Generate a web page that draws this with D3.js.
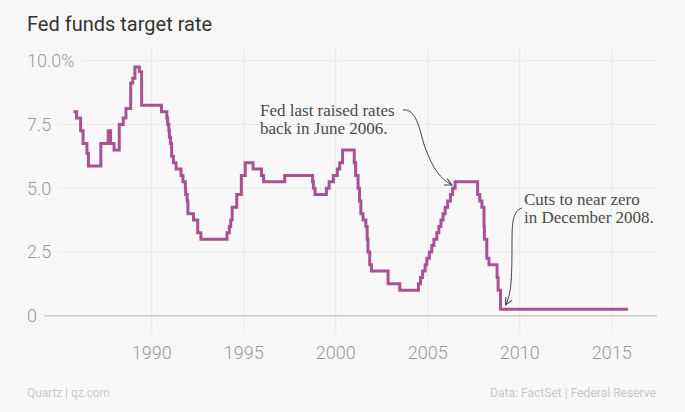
<!DOCTYPE html>
<html>
<head>
<meta charset="utf-8">
<script src="https://cdn.jsdelivr.net/npm/d3@7"></script>
<style>
  html, body { margin: 0; padding: 0; background: #f8f8f8; }
  svg { display: block; }
</style>
</head>
<body>
<svg id="chart" width="685" height="412"></svg>
<script>
// ---- Data (step changes of the target rate) ----
const changeDates = [
  "1985-10-01","1985-12-01","1986-02-20","1986-04-10","1986-06-25","1986-07-25",
  "1987-03-28","1987-08-22","1987-10-08","1987-12-15",
  "1988-03-28","1988-06-15","1988-08-08","1988-11-10","1988-12-20",
  "1989-02-02","1989-05-01","1989-06-15",
  "1990-07-13","1990-10-29","1990-11-14","1990-12-07","1990-12-18",
  "1991-01-09","1991-02-01","1991-03-08","1991-04-30","1991-08-06","1991-09-13",
  "1991-10-31","1991-11-06","1991-12-06","1991-12-20",
  "1992-04-09","1992-07-02","1992-09-04",
  "1994-02-04","1994-03-22","1994-04-18","1994-05-17","1994-08-16","1994-11-15",
  "1995-02-01","1995-07-06","1995-12-19","1996-01-31","1997-03-25",
  "1998-09-29","1998-10-15","1998-11-17",
  "1999-06-30","1999-08-24","1999-11-16",
  "2000-02-02","2000-03-21","2000-05-16",
  "2001-01-03","2001-01-31","2001-03-20","2001-04-18","2001-05-15","2001-06-27",
  "2001-08-21","2001-09-17","2001-10-02","2001-11-06","2001-12-11",
  "2002-11-06","2003-06-25",
  "2004-06-30","2004-08-10","2004-09-21","2004-11-10","2004-12-14",
  "2005-02-02","2005-03-22","2005-05-03","2005-06-30","2005-08-09","2005-09-20",
  "2005-11-01","2005-12-13",
  "2006-01-31","2006-03-28","2006-05-10","2006-06-29",
  "2007-09-18","2007-10-31","2007-12-11",
  "2008-01-22","2008-01-30","2008-03-18","2008-04-30","2008-10-08","2008-10-29",
  "2008-12-16","2015-11-20"
];
const rates = [
  8.0,7.75,7.25,6.75,6.375,5.875,
  6.75,7.25,6.75,6.5,
  7.5,7.75,8.125,9.125,9.3125,
  9.75,9.5625,8.25,
  8.0,7.75,7.5,7.25,7.0,
  6.75,6.25,6.0,5.75,5.5,5.25,
  5.0,4.75,4.5,4.0,
  3.75,3.25,3.0,
  3.25,3.5,3.75,4.25,4.75,5.5,
  6.0,5.75,5.5,5.25,5.5,
  5.25,5.0,4.75,
  5.0,5.25,5.5,
  5.75,6.0,6.5,
  6.0,5.5,5.0,4.5,4.0,3.75,
  3.5,3.0,2.5,2.0,1.75,
  1.25,1.0,
  1.25,1.5,1.75,2.0,2.25,
  2.5,2.75,3.0,3.25,3.5,3.75,
  4.0,4.25,
  4.5,4.75,5.0,5.25,
  4.75,4.5,4.25,
  3.5,3.0,2.25,2.0,1.5,1.0,
  0.25,0.25
];
const yTicks = [0, 2.5, 5, 7.5, 10];
const yTickLabels = ["0", "2.5", "5.0", "7.5", "10.0%"];
const xTickYears = [1990, 1995, 2000, 2005, 2010, 2015];

const titleText = "Fed funds target rate";
const annotation1 = ["Fed last raised rates", "back in June 2006."];
const annotation2 = ["Cuts to near zero", "in December 2008."];
const sourceLeft = "Quartz | qz.com";
const sourceRight = "Data: FactSet | Federal Reserve";

// ---- Layout ----
const parse = d3.timeParse("%Y-%m-%d");
const series = changeDates.map((d, i) => ({ date: parse(d), value: rates[i] }));

const svg = d3.select("#chart");
const plotRight = 657;
const gridTop = 46, gridBottom = 333;

const x = d3.scaleTime()
  .domain([new Date(1985, 0, 1), new Date(2017, 6, 1)])
  .range([59.7, 657.7]);
const y = d3.scaleLinear().domain([0, 10]).range([315.7, 60.7]);

const lineColor = "#aa5290";

// Title
svg.append("text")
  .attr("x", 27).attr("y", 31)
  .attr("font-family", "Roboto, 'Noto Sans', sans-serif")
  .attr("font-size", 20)
  .attr("fill", "#333")
  .text(titleText);

// Vertical grid lines (x ticks)
const xg = svg.append("g");
xg.selectAll("line").data(xTickYears).join("line")
  .attr("x1", d => x(new Date(d, 0, 1))).attr("x2", d => x(new Date(d, 0, 1)))
  .attr("y1", gridTop).attr("y2", gridBottom)
  .attr("stroke", "#e9e9e9").attr("stroke-width", 1);
xg.selectAll("text").data(xTickYears).join("text")
  .attr("x", d => x(new Date(d, 0, 1))).attr("y", 359)
  .attr("text-anchor", "middle")
  .attr("font-family", "Roboto, sans-serif").attr("font-weight", 300)
  .attr("font-size", 18).attr("fill", "#999")
  .text(d => d);

// Y labels and horizontal grid lines
const yg = svg.append("g");
yTicks.forEach((t, i) => {
  const label = yg.append("text")
    .attr("x", 27).attr("y", y(t)).attr("dy", "0.36em")
    .attr("font-family", "Roboto, sans-serif").attr("font-weight", 300)
    .attr("font-size", 18).attr("fill", "#999")
    .text(yTickLabels[i]);
  const w = label.node().getComputedTextLength();
  yg.append("line")
    .attr("x1", 27 + w + 7).attr("x2", plotRight)
    .attr("y1", y(t)).attr("y2", y(t))
    .attr("stroke", t === 0 ? "#c8c8c8" : "#e9e9e9")
    .attr("stroke-width", t === 0 ? 1.5 : 1);
});

// Line
const line = d3.line()
  .x(d => x(d.date)).y(d => y(d.value))
  .curve(d3.curveStepAfter);
svg.append("path")
  .datum(series)
  .attr("d", line)
  .attr("fill", "none")
  .attr("stroke", lineColor)
  .attr("stroke-width", 3)
  .attr("stroke-linejoin", "miter");

// Annotations
const annFont = "'Liberation Serif', 'DejaVu Serif', serif";
function annText(lines, x0, y0) {
  lines.forEach((l, i) => {
    svg.append("text")
      .attr("font-family", annFont).attr("font-size", 17).attr("fill", "#4a4a4a")
      .attr("x", x0).attr("y", y0 + i * 18).text(l);
  });
}
annText(annotation1, 260, 116);
annText(annotation2, 524, 204.5);

const defs = svg.append("defs");
defs.append("marker")
  .attr("id", "arrow").attr("viewBox", "0 0 10 10")
  .attr("refX", 9).attr("refY", 5)
  .attr("markerWidth", 9).attr("markerHeight", 9)
  .attr("markerUnits", "userSpaceOnUse")
  .attr("orient", "auto")
  .append("path").attr("d", "M1,1 L9,5 L1,9")
  .attr("fill", "none").attr("stroke", "#444").attr("stroke-width", 1.2);

svg.append("path")
  .attr("d", "M403,110 C418,108 420,135 426,150 C433,168 440,179 452,185")
  .attr("fill", "none").attr("stroke", "#444").attr("stroke-width", 1)
  .attr("marker-end", "url(#arrow)");
svg.append("path")
  .attr("d", "M522,208 C512,211 512,225 512,245 C512,280 511,295 505.5,305")
  .attr("fill", "none").attr("stroke", "#444").attr("stroke-width", 1)
  .attr("marker-end", "url(#arrow)");

// Footer
svg.append("text")
  .attr("x", 27).attr("y", 397)
  .attr("font-family", "'Liberation Sans Narrow', Roboto, sans-serif")
  .attr("font-size", 13).attr("fill", "#c8c8c8")
  .attr("textLength", 83).attr("lengthAdjust", "spacingAndGlyphs")
  .text(sourceLeft);
svg.append("text")
  .attr("x", 490).attr("y", 397)
  .attr("font-family", "'Liberation Sans Narrow', Roboto, sans-serif")
  .attr("font-size", 13).attr("fill", "#c8c8c8")
  .attr("textLength", 166).attr("lengthAdjust", "spacingAndGlyphs")
  .text(sourceRight);
</script>
</body>
</html>
